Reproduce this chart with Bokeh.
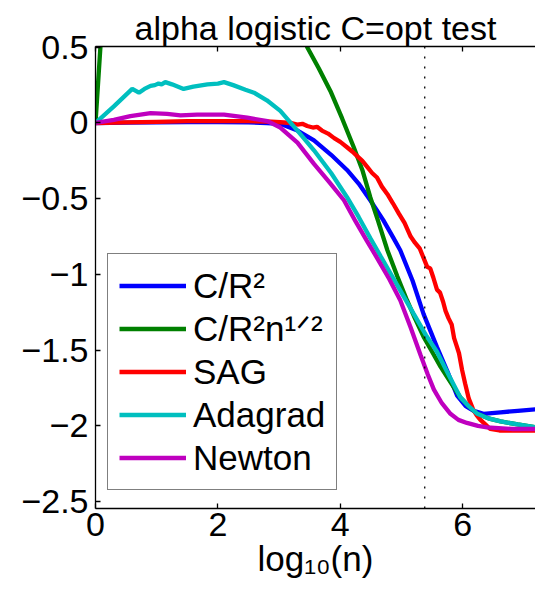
from bokeh.plotting import figure
from bokeh.models import (Legend, LegendItem, Span, LinearAxis, FixedTicker, Range1d)
from bokeh.embed import file_html
from bokeh.resources import INLINE

# ---------------- data ----------------
title_text = "alpha logistic C=opt test"
x_label = "log\u2081\u2080(n)"

x_ticks = [0, 2, 4, 6]
x_tick_labels = ["0", "2", "4", "6"]
y_ticks = [-2.5, -2, -1.5, -1, -0.5, 0, 0.5]
y_tick_labels = ["\u22122.5", "\u22122", "\u22121.5", "\u22121", "\u22120.5", "0", "0.5"]

x_min, x_max = 0.0, 7.19
y_min, y_max = -2.545, 0.505
vline_x = 5.38

blue_label = "C/R\u00b2"
blue_x = [0, 0.5, 1.0, 1.5, 2.0, 2.5, 2.8, 3.02, 3.3, 3.57, 3.85, 4.11, 4.3, 4.49, 4.7, 4.87,
          4.98, 5.18, 5.36, 5.58, 5.75, 5.91, 6.05, 6.18, 6.34, 6.62, 6.9, 7.2]
blue_y = [0, 0.002, 0.004, 0.006, 0.006, 0.004, 0.0, -0.005, -0.05, -0.115, -0.21, -0.31, -0.40,
          -0.51, -0.64, -0.76, -0.84, -1.04, -1.26, -1.48, -1.64, -1.80, -1.87, -1.90, -1.92,
          -1.91, -1.90, -1.89]

green_label = "C/R\u00b2n\u00b9\u141f\u00b2"
green_x = [0, 0.08, 0.3, 0.7, 1.2, 2.0, 2.6, 3.0, 3.25, 3.46, 3.65, 3.84, 4.03, 4.22, 4.36, 4.49,
           4.62, 4.77, 4.93, 5.09, 5.22, 5.36, 5.5, 5.64, 5.8, 5.96, 6.1, 6.24, 6.42, 6.62, 6.9, 7.2]
green_y = [0, 0.5, 1.5, 2.4, 2.9, 2.9, 2.1, 1.2, 0.8, 0.5, 0.36, 0.21, 0.03, -0.16, -0.31, -0.49,
           -0.65, -0.84, -1.01, -1.17, -1.29, -1.41, -1.51, -1.61, -1.71, -1.81, -1.87, -1.92,
           -1.95, -1.97, -1.99, -2.01]

red_label = "SAG"
red_x = [0, 0.5, 1.0, 1.5, 2.0, 2.5, 2.8, 3.02, 3.2, 3.3, 3.38, 3.46, 3.55, 3.62, 3.7, 3.8, 3.9,
         4.0, 4.11, 4.2, 4.28, 4.36, 4.44, 4.52, 4.6, 4.68, 4.77, 4.86, 4.96, 5.05, 5.15, 5.22,
         5.3, 5.35, 5.42, 5.47, 5.52, 5.58, 5.63, 5.68, 5.72, 5.77, 5.82, 5.86, 5.9, 5.94, 5.99,
         6.04, 6.1, 6.17, 6.23, 6.29, 6.37, 6.45, 6.6, 6.9, 7.2]
red_y = [0, 0.004, 0.008, 0.012, 0.013, 0.012, 0.01, 0.005, 0.0, -0.01, -0.005, -0.02, -0.03,
         -0.025, -0.05, -0.07, -0.10, -0.125, -0.16, -0.19, -0.22, -0.25, -0.29, -0.33, -0.36,
         -0.42, -0.47, -0.53, -0.60, -0.66, -0.75, -0.79, -0.83, -0.88, -0.95, -0.96, -1.02,
         -1.10, -1.12, -1.18, -1.24, -1.29, -1.33, -1.42, -1.47, -1.52, -1.63, -1.72, -1.82,
         -1.89, -1.93, -1.96, -1.99, -2.02, -2.03, -2.03, -2.03]

cyan_label = "Adagrad"
cyan_x = [0, 0.3, 0.6, 0.71, 0.8, 0.9, 0.97, 1.03, 1.08, 1.14, 1.25, 1.44, 1.6, 1.83, 2.0, 2.10,
          2.25, 2.45, 2.59, 2.8, 3.02, 3.3, 3.57, 3.85, 4.11, 4.3, 4.49, 4.66, 4.93, 5.2, 5.4,
          5.58, 5.78, 5.96, 6.1, 6.24, 6.42, 6.62, 6.9, 7.2]
cyan_y = [0, 0.11, 0.225, 0.20, 0.225, 0.245, 0.25, 0.26, 0.255, 0.27, 0.255, 0.225, 0.24, 0.255,
          0.26, 0.27, 0.25, 0.22, 0.20, 0.15, 0.08, -0.05, -0.18, -0.33, -0.49, -0.62, -0.76,
          -0.88, -1.07, -1.26, -1.40, -1.51, -1.67, -1.81, -1.87, -1.92, -1.95, -1.97, -1.99, -2.01]

magenta_label = "Newton"
magenta_x = [0, 0.3, 0.57, 0.9, 1.17, 1.39, 1.66, 2.10, 2.48, 2.81, 3.02, 3.3, 3.57, 3.82, 4.06,
             4.25, 4.43, 4.6, 4.8, 4.98, 5.15, 5.31, 5.43, 5.53, 5.66, 5.8, 5.93, 6.07, 6.25, 6.4,
             6.8, 7.2]
magenta_y = [0, 0.02, 0.045, 0.065, 0.06, 0.05, 0.055, 0.055, 0.035, 0.012, -0.03, -0.13, -0.27,
             -0.39, -0.51, -0.65, -0.775, -0.89, -1.03, -1.17, -1.35, -1.53, -1.66, -1.76, -1.85,
             -1.92, -1.96, -1.98, -2.0, -2.01, -2.02, -2.02]

series = [
    (blue_label, blue_x, blue_y, "#0000ff"),
    (green_label, green_x, green_y, "#008000"),
    (red_label, red_x, red_y, "#ff0000"),
    (cyan_label, cyan_x, cyan_y, "#00bfbf"),
    (magenta_label, magenta_x, magenta_y, "#bf00bf"),
]

FONT = "Liberation Sans"

# ---------------- figure ----------------
p = figure(width=535, height=593, output_backend="svg", toolbar_location=None,
           x_range=Range1d(x_min, x_max), y_range=Range1d(y_min, y_max),
           min_border_left=95, min_border_right=0, min_border_top=46, min_border_bottom=85,
           x_axis_location="below")
p.background_fill_color = "white"
p.border_fill_color = "white"
p.outline_line_color = None
p.grid.visible = False

p.title.text = title_text
p.title.text_font = FONT
p.title.text_font_size = "34px"
p.title.text_font_style = "normal"
p.title.text_color = "black"
p.title.align = "center"
p.title.standoff = 0
p.title.offset = 0

def style_axis(ax, ticks, labels, show_labels=True):
    ax.ticker = FixedTicker(ticks=ticks)
    ax.major_label_overrides = {t: l for t, l in zip(ticks, labels)}
    ax.axis_line_color = "black"
    ax.axis_line_width = 1.3
    ax.major_tick_line_color = "black"
    ax.major_tick_line_width = 1.3
    ax.major_tick_in = 5
    ax.major_tick_out = 0
    ax.minor_tick_line_color = None
    ax.major_label_text_font = FONT
    ax.major_label_text_color = "black"
    if show_labels:
        ax.major_label_text_font_size = "34px"
    else:
        ax.major_label_text_font_size = "1px"
        ax.major_label_text_alpha = 0
        ax.major_label_standoff = 0

style_axis(p.xaxis[0], x_ticks, x_tick_labels)
p.xaxis[0].major_label_standoff = 4
p.xaxis[0].axis_label = x_label
p.xaxis[0].axis_label_text_font = FONT
p.xaxis[0].axis_label_text_font_size = "35px"
p.xaxis[0].axis_label_text_font_style = "normal"
p.xaxis[0].axis_label_text_color = "black"
p.xaxis[0].axis_label_standoff = 0

style_axis(p.yaxis[0], y_ticks, y_tick_labels)
p.yaxis[0].major_label_standoff = 7

top_axis = LinearAxis()
style_axis(top_axis, x_ticks, x_tick_labels, show_labels=False)
p.add_layout(top_axis, "above")

# dotted vertical reference line
p.add_layout(Span(location=vline_x, dimension="height", line_color="black",
                  line_width=1.3, line_dash="2 8"))

items = []
for label, xs, ys, color in series:
    r = p.line(xs, ys, line_color=color, line_width=4.3)
    items.append(LegendItem(label=label, renderers=[r]))

legend = Legend(items=items, location=(12, 18))
legend.label_text_font = FONT
legend.label_text_font_size = "35px"
legend.label_text_color = "black"
legend.label_height = 41
legend.glyph_height = 41
legend.glyph_width = 67
legend.label_standoff = 7
legend.spacing = 2
legend.padding = 11
legend.margin = 0
legend.border_line_color = "black"
legend.border_line_width = 1.3
legend.background_fill_color = "white"
legend.background_fill_alpha = 1
p.add_layout(legend)

open("out.html", "w").write(file_html(p, INLINE))
